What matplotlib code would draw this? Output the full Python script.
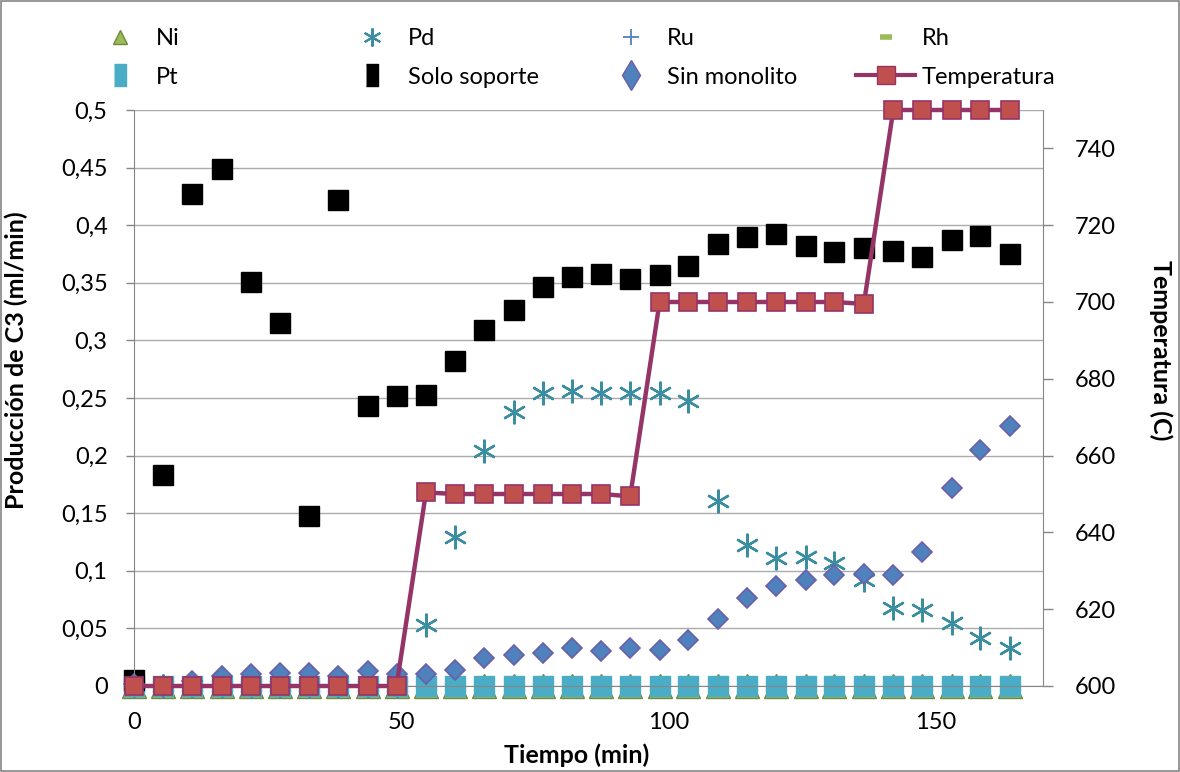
import matplotlib
matplotlib.use("Agg")
import matplotlib.pyplot as plt
from matplotlib.lines import Line2D
from matplotlib.patches import Rectangle
from matplotlib.ticker import FuncFormatter

plt.rcParams["font.family"] = ["Lato", "DejaVu Sans"]

# ---- datos ----
tiempo = [0, 5.5, 10.9, 16.4, 21.8, 27.3, 32.8, 38.2, 43.7, 49.1,
          54.6, 60.1, 65.5, 71.0, 76.4, 81.9, 87.4, 92.8, 98.3, 103.7,
          109.2, 114.7, 120.1, 125.6, 131.0, 136.5, 142.0, 147.4, 152.9, 158.3, 163.8]

ni = [0] * 31
ru = [0] * 31
rh = [0] * 31
pt = [0] * 31

pd_ = [0, 0, 0, 0, 0, 0, 0, 0, 0, 0,
       0.053, 0.129, 0.204, 0.238, 0.254, 0.256, 0.254, 0.254, 0.254, 0.247,
       0.161, 0.122, 0.111, 0.112, 0.107, 0.092, 0.068, 0.066, 0.055, 0.042, 0.033]

solo_soporte = [0.005, 0.183, 0.427, 0.449, 0.351, 0.315, 0.148, 0.422, 0.243, 0.252,
                0.253, 0.282, 0.309, 0.326, 0.346, 0.355, 0.358, 0.353, 0.357, 0.365,
                0.384, 0.390, 0.392, 0.382, 0.377, 0.380, 0.378, 0.372, 0.387, 0.391, 0.375]

sin_monolito = [0.002, 0.0, 0.004, 0.009, 0.010, 0.011, 0.011, 0.009, 0.013, 0.010,
                0.010, 0.014, 0.024, 0.027, 0.029, 0.033, 0.030, 0.033, 0.031, 0.040,
                0.058, 0.076, 0.087, 0.092, 0.096, 0.097, 0.096, 0.116, 0.172, 0.205, 0.226]

temperatura = [600, 600, 600, 600, 600, 600, 600, 600, 600, 600,
               650.4, 650, 650, 650, 650, 650, 650, 649.4,
               700, 700, 700, 700, 700, 700, 700, 699.5,
               750, 750, 750, 750, 750]

y_ticks = [0, 0.05, 0.1, 0.15, 0.2, 0.25, 0.3, 0.35, 0.4, 0.45, 0.5]
t_ticks = [600, 620, 640, 660, 680, 700, 720, 740]
x_ticks = [0, 50, 100, 150]

GRIS = "#868686"
C_NI, C_NI_E = "#9BBB59", "#71893F"
C_PD = "#3A8EA0"
C_RU = "#4F81BD"
C_PT = "#4BACC6"
C_SIN, C_SIN_E = "#4F81BD", "#6A5FA8"
C_TEMP_L, C_TEMP_F = "#953567", "#C0504D"

fig = plt.figure(figsize=(11.8, 7.72), dpi=100)
fig.patches.append(Rectangle((0.0005, 0.0008), 0.999, 0.998, transform=fig.transFigure,
                             fill=False, edgecolor=GRIS, lw=1.2))
ax = fig.add_axes([134 / 1180, 86 / 772, 909 / 1180, 576 / 772])
ax2 = ax.twinx()

kw = dict(ls="none", clip_on=False)
ax.plot(tiempo, ni, marker="^", ms=17, mfc=C_NI, mec=C_NI_E, **kw)
ax.plot(tiempo, pd_, marker=(6, 2, 0), ms=17, mec=C_PD, mew=1.7, **kw)
ax.plot(tiempo, ru, marker="+", ms=12, mec=C_RU, mew=1.5, **kw)
ax.plot(tiempo, rh, marker="_", ms=12, mec=C_NI, mew=5, **kw)
ax.plot(tiempo, pt, marker="s", ms=14.5, mfc=C_PT, mec=C_PT, **kw)
ax.plot(tiempo, solo_soporte, marker="s", ms=14, mfc="black", mec="black", **kw)
ax.plot(tiempo, sin_monolito, marker="D", ms=10, mfc=C_SIN, mec=C_SIN_E, mew=1.2, **kw)

ax2.plot(tiempo, temperatura, color=C_TEMP_L, lw=3.2, marker="s", ms=13.5,
         mfc=C_TEMP_F, mec=C_TEMP_L, mew=1.2, clip_on=False)

ax.set_xlim(0, 170)
ax.set_ylim(0, 0.5)
ax2.set_ylim(600, 750)

ax.set_xticks(x_ticks)
ax.set_yticks(y_ticks)
ax2.set_yticks(t_ticks)
ax.yaxis.set_major_formatter(FuncFormatter(lambda v, p: f"{v:g}".replace(".", ",")))
ax.tick_params(axis="x", length=0, pad=19, labelsize=17)
ax.tick_params(axis="y", length=6, width=1, color=GRIS, pad=13, labelsize=17)
ax2.tick_params(axis="y", length=7, width=1, color=GRIS, pad=16, labelsize=17)

ax.grid(axis="y", color="#ABABAB", lw=1)
ax.set_axisbelow(True)
for s in ["top", "right"]:
    ax.spines[s].set_visible(False)
for s in ["left", "bottom"]:
    ax.spines[s].set_color(GRIS)
for s in ["top", "left", "bottom"]:
    ax2.spines[s].set_visible(False)
ax2.spines["right"].set_color(GRIS)

ax.set_xlabel("Tiempo (min)", fontsize=18, fontweight="bold")
ax.xaxis.set_label_coords(0.487, -0.100)
ax.set_ylabel("Producción de C3 (ml/min)", fontsize=18, fontweight="bold")
ax.yaxis.set_label_coords(-0.117, 0.565)
ax2.set_ylabel("Temperatura (C)", fontsize=18, fontweight="bold", rotation=270, va="center")
ax2.yaxis.set_label_coords(1.13, 0.583)

# ---- leyenda: cuatro columnas fijas ----
tall = [(-0.25, -0.5), (0.25, -0.5), (0.25, 0.5), (-0.25, 0.5)]
h = {
    "Ni": Line2D([], [], ls="none", marker="^", ms=10, mfc=C_NI, mec=C_NI_E),
    "Pt": Line2D([], [], ls="none", marker=tall, ms=16, mfc=C_PT, mec=C_PT),
    "Pd": Line2D([], [], ls="none", marker=(6, 2, 0), ms=13, mec=C_PD, mew=1.5),
    "Solo soporte": Line2D([], [], ls="none", marker=tall, ms=16, mfc="black", mec="black"),
    "Ru": Line2D([], [], ls="none", marker="+", ms=12, mec=C_RU, mew=1.3),
    "Sin monolito": Line2D([], [], ls="none", marker="d", ms=15, mfc=C_SIN, mec=C_SIN_E),
    "Rh": Line2D([], [], ls="none", marker="_", ms=8, mec=C_NI, mew=4),
    "Temperatura": Line2D([], [], color=C_TEMP_L, lw=3, marker="s", ms=13,
                          mfc=C_TEMP_F, mec=C_TEMP_L),
}
cols = [(["Ni", "Pt"], 90), (["Pd", "Solo soporte"], 342),
        (["Ru", "Sin monolito"], 601), (["Rh", "Temperatura"], 856)]
for names, xpx in cols:
    fig.legend([h[n] for n in names], names, loc="upper left",
               bbox_to_anchor=(xpx / 1180, 1 - 28 / 772), frameon=False,
               fontsize=17, borderpad=0, borderaxespad=0, handlelength=2.5,
               handletextpad=0.3, labelspacing=0.75)

fig.savefig("out.png", dpi=100)
